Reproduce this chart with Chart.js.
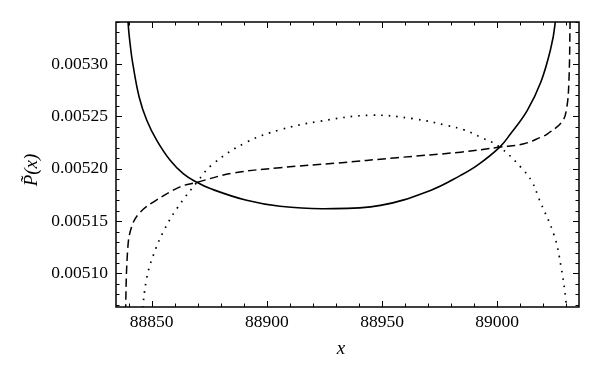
<!DOCTYPE html>
<html>
<head>
<meta charset="utf-8">
<script src="https://cdn.jsdelivr.net/npm/chart.js@4.4.1/dist/chart.umd.min.js"></script>
<style>
  html, body { margin: 0; padding: 0; background: #fff; }
  #wrap { width: 600px; height: 381px; position: relative; }
</style>
</head>
<body>
<div id="wrap"><canvas id="chart"></canvas></div>
<script>
/* ── DATA ─────────────────────────────────── */
const xMin = 88834.5, xMax = 89035.5;
const yMin = 0.005068, yMax = 0.00534;
const xTicks = [88850, 88900, 88950, 89000];
const yTicks = [0.00510, 0.00515, 0.00520, 0.00525, 0.00530];

// solid curve (U shape)
const solidX = [88839.4, 88839.8, 88840.9, 88841.8, 88844.6, 88847.9, 88852.2, 88858.0, 88863.8, 88869.6, 88875.4, 88891.2, 88905.7, 88925.0, 88949.3, 88971.0, 88984.1, 88991.3, 89001.1, 89005.8, 89013.0, 89018.9, 89023.2, 89025.1, 89025.6];
const solidY = [0.005365, 0.005338, 0.005314, 0.005300, 0.005268, 0.005246, 0.005227, 0.005208, 0.005195, 0.005187, 0.005181, 0.0051698, 0.0051641, 0.0051618, 0.0051650, 0.0051793, 0.0051936, 0.0052031, 0.0052206, 0.0052333, 0.0052555, 0.0052825, 0.0053143, 0.005338, 0.005365];

// dashed curve (rising S shape)
const dashedX = [88838.5, 88839.6, 88841.5, 88845.1, 88850.7, 88862.3, 88869.6, 88885.3, 88905.7, 88930.0, 88956.5, 88984.1, 89001.1, 89011.6, 89018.9, 89021.7, 89028.2, 89030.1, 89031.1, 89031.6, 89031.7];
const dashedY = [0.00505, 0.0051238, 0.0051460, 0.0051587, 0.0051682, 0.0051826, 0.005187, 0.0051958, 0.0052009, 0.0052053, 0.0052105, 0.0052158, 0.0052206, 0.0052238, 0.005230, 0.005233, 0.0052450, 0.0052571, 0.0052825, 0.005337, 0.00536];

// dotted curve (arch)
const dottedX = [88845.7, 88847.8, 88850.7, 88855.0, 88860.9, 88869.6, 88876.7, 88891.2, 88905.7, 88923.1, 88945.0, 88963.8, 88978.3, 88985.5, 88992.8, 89001.1, 89010.2, 89015.2, 89018.1, 89024.7, 89027.6, 89029.8, 89030.2];
const dottedY = [0.00506, 0.0050952, 0.0051174, 0.0051396, 0.0051619, 0.005187, 0.0052047, 0.0052253, 0.0052371, 0.0052453, 0.0052510, 0.0052476, 0.0052412, 0.0052371, 0.0052301, 0.0052206, 0.0052015, 0.0051872, 0.0051714, 0.0051365, 0.0051079, 0.0050746, 0.00506];

const toPoints = (xs, ys) => xs.map((x, i) => ({ x, y: ys[i] }));

/* ── FRAME + INWARD TICKS ─────────────────── */
const frameTicks = {
    id: 'frameTicks',
    afterDraw(chart) {
        const { ctx, chartArea: a, scales: { x, y } } = chart;
        ctx.save();
        ctx.strokeStyle = '#000';
        ctx.lineWidth = 1;
        const seg = (x1, y1, x2, y2) => {
            ctx.beginPath(); ctx.moveTo(x1, y1); ctx.lineTo(x2, y2); ctx.stroke();
        };

        for (let i = Math.ceil(xMin / 10); i * 10 <= xMax; i++) {
            const px = Math.round(x.getPixelForValue(i * 10)) + 0.5;
            const len = i % 5 === 0 ? 6 : 3.5;
            seg(px, a.bottom, px, a.bottom - len);
            seg(px, a.top, px, a.top + len);
        }
        for (let i = Math.ceil(yMin / 1e-5); i * 1e-5 <= yMax; i++) {
            const py = Math.round(y.getPixelForValue(i * 1e-5)) + 0.5;
            const len = i % 5 === 0 ? 6 : 3.5;
            seg(a.left, py, a.left + len, py);
            seg(a.right, py, a.right - len, py);
        }

        ctx.lineWidth = 1.5;
        ctx.strokeRect(a.left, a.top, a.right - a.left, a.bottom - a.top);

        // axis titles
        ctx.fillStyle = '#000';
        ctx.font = 'italic 19px "Liberation Serif"';
        ctx.textAlign = 'center';
        ctx.textBaseline = 'middle';
        ctx.fillText('x', 341, 349);
        ctx.translate(32, 170);
        ctx.rotate(-Math.PI / 2);
        ctx.fillText('P\u0303(x)', 0, 0);
        ctx.restore();
    }
};

/* ── CHART ────────────────────────────────── */
const tickFont = { family: '"Liberation Serif"', size: 17.5 };

new Chart(document.getElementById('chart'), {
    type: 'scatter',
    data: {
        datasets: [
            {
                label: 'solid',
                data: toPoints(solidX, solidY),
                showLine: true,
                borderColor: '#000',
                borderWidth: 1.6,
                pointRadius: 0,
                tension: 0.4
            },
            {
                label: 'dashed',
                data: toPoints(dashedX, dashedY),
                showLine: true,
                borderColor: '#000',
                borderWidth: 1.5,
                borderDash: [8.5, 4.5],
                pointRadius: 0,
                tension: 0.4
            },
            {
                label: 'dotted',
                data: toPoints(dottedX, dottedY),
                showLine: true,
                borderColor: '#000',
                borderWidth: 1.7,
                borderDash: [1.6, 6],
                pointRadius: 0,
                tension: 0.4
            }
        ]
    },
    options: {
        responsive: true,
        maintainAspectRatio: false,
        animation: false,
        layout: { padding: { top: 22, right: 21, left: 0, bottom: 0 } },
        plugins: {
            legend: { display: false },
            tooltip: { enabled: false }
        },
        scales: {
            x: {
                type: 'linear',
                min: xMin,
                max: xMax,
                grid: { display: false, drawTicks: false },
                border: { display: false },
                afterBuildTicks: s => { s.ticks = xTicks.map(v => ({ value: v })); },
                afterFit: s => { s.height = 74; },
                ticks: {
                    color: '#000',
                    font: tickFont,
                    padding: 5,
                    maxRotation: 0,
                    callback: v => String(v)
                }
            },
            y: {
                type: 'linear',
                min: yMin,
                max: yMax,
                grid: { display: false, drawTicks: false },
                border: { display: false },
                afterBuildTicks: s => { s.ticks = yTicks.map(v => ({ value: v })); },
                afterFit: s => { s.width = 116; },
                ticks: {
                    color: '#000',
                    font: tickFont,
                    padding: 8,
                    callback: v => v.toFixed(5)
                }
            }
        }
    },
    plugins: [frameTicks]
});
</script>
</body>
</html>
